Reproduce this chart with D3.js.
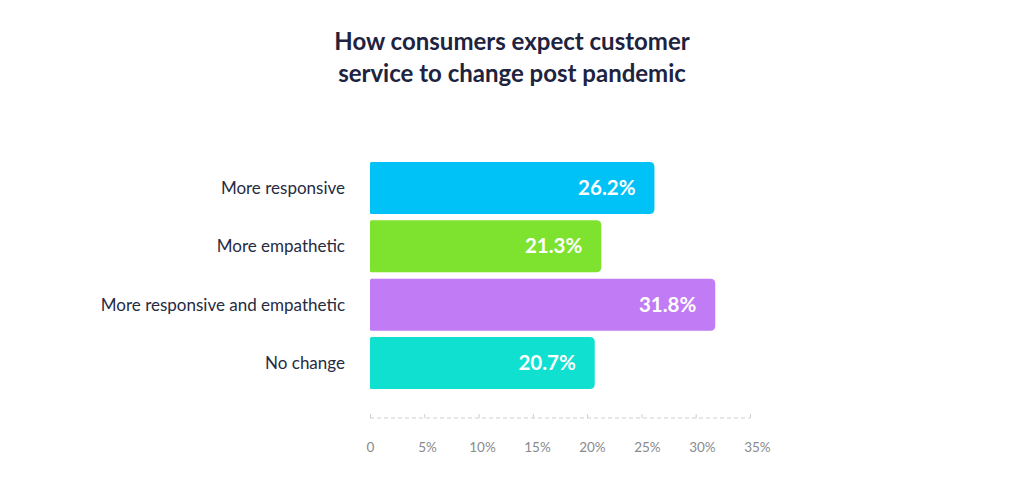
<!DOCTYPE html>
<html>
<head>
<meta charset="utf-8">
<script src="https://cdn.jsdelivr.net/npm/d3@7"></script>
<style>
  html, body { margin: 0; padding: 0; background: #ffffff; }
  svg { display: block; font-family: Lato, "Noto Sans", sans-serif; }
</style>
</head>
<body>
<svg id="chart" width="1024" height="499"></svg>
<script>
const categories = ["More responsive", "More empathetic", "More responsive and empathetic", "No change"];
const values = [26.2, 21.3, 31.8, 20.7];
const barColors = ["#00c2f6", "#7ee32e", "#c17bf5", "#0fe0cf"];
const tickValues = [0, 5, 10, 15, 20, 25, 30, 35];
const tickLabels = ["0", "5%", "10%", "15%", "20%", "25%", "30%", "35%"];
const titleLines = ["How consumers expect customer", "service to change post pandemic"];

const svg = d3.select("#chart");

const x = d3.scaleLinear().domain([0, 35]).range([370, 750]);
const y = d3.scaleBand().domain(categories).range([162, 389]).paddingInner(0.11).paddingOuter(0);

// Title
svg.append("g").selectAll("text").data(titleLines).join("text")
  .attr("x", 512)
  .attr("y", (d, i) => 50 + i * 32)
  .attr("text-anchor", "middle")
  .attr("font-size", 24)
  .attr("font-weight", 700)
  .attr("fill", "#1e2340")
  .text(d => d);

// Bars with rounded right corners
function barPath(x0, x1, y0, h, rl, rr) {
  return `M${x0 + rl},${y0}` +
    `H${x1 - rr}` +
    `Q${x1},${y0} ${x1},${y0 + rr}` +
    `V${y0 + h - rr}` +
    `Q${x1},${y0 + h} ${x1 - rr},${y0 + h}` +
    `H${x0 + rl}` +
    `Q${x0},${y0 + h} ${x0},${y0 + h - rl}` +
    `V${y0 + rl}` +
    `Q${x0},${y0} ${x0 + rl},${y0}Z`;
}

const data = categories.map((c, i) => ({ c, v: values[i], color: barColors[i] }));

svg.append("g").selectAll("path").data(data).join("path")
  .attr("d", d => barPath(x(0), x(d.v), y(d.c), y.bandwidth(), 1.5, 5))
  .attr("fill", d => d.color);

// Value labels
svg.append("g").selectAll("text").data(data).join("text")
  .attr("x", d => x(d.v) - 19)
  .attr("y", d => y(d.c) + y.bandwidth() / 2 + 7)
  .attr("text-anchor", "end")
  .attr("font-size", 20.5)
  .attr("font-weight", 700)
  .attr("fill", "#ffffff")
  .text(d => d.v.toFixed(1) + "%");

// Category labels
svg.append("g").selectAll("text").data(data).join("text")
  .attr("x", 345)
  .attr("y", d => y(d.c) + y.bandwidth() / 2 + 6)
  .attr("text-anchor", "end")
  .attr("font-size", 17)
  .attr("fill", "#262b42")
  .text(d => d.c);

// X axis
const axisY = 418;
const axis = d3.axisBottom(x)
  .tickValues(tickValues)
  .tickFormat((d, i) => tickLabels[i])
  .tickSize(-4)
  .tickPadding(24);
const ax = svg.append("g").attr("transform", `translate(0,${axisY})`).call(axis);
ax.select(".domain").remove();
ax.insert("line", ":first-child")
  .attr("x1", x(0)).attr("x2", x(35))
  .attr("y1", 0).attr("y2", 0)
  .attr("stroke", "#cfcfcf")
  .attr("stroke-width", 1)
  .attr("stroke-dasharray", "4,3");
ax.selectAll(".tick line").attr("stroke", "#cfcfcf");
ax.selectAll(".tick text")
  .attr("dx", (d, i) => i === 0 ? 0 : 2 + i * 0.7)
  .attr("fill", "#8a8a8a")
  .attr("font-size", 13.5)
  .attr("font-family", "Lato, 'Noto Sans', sans-serif");
</script>
</body>
</html>
